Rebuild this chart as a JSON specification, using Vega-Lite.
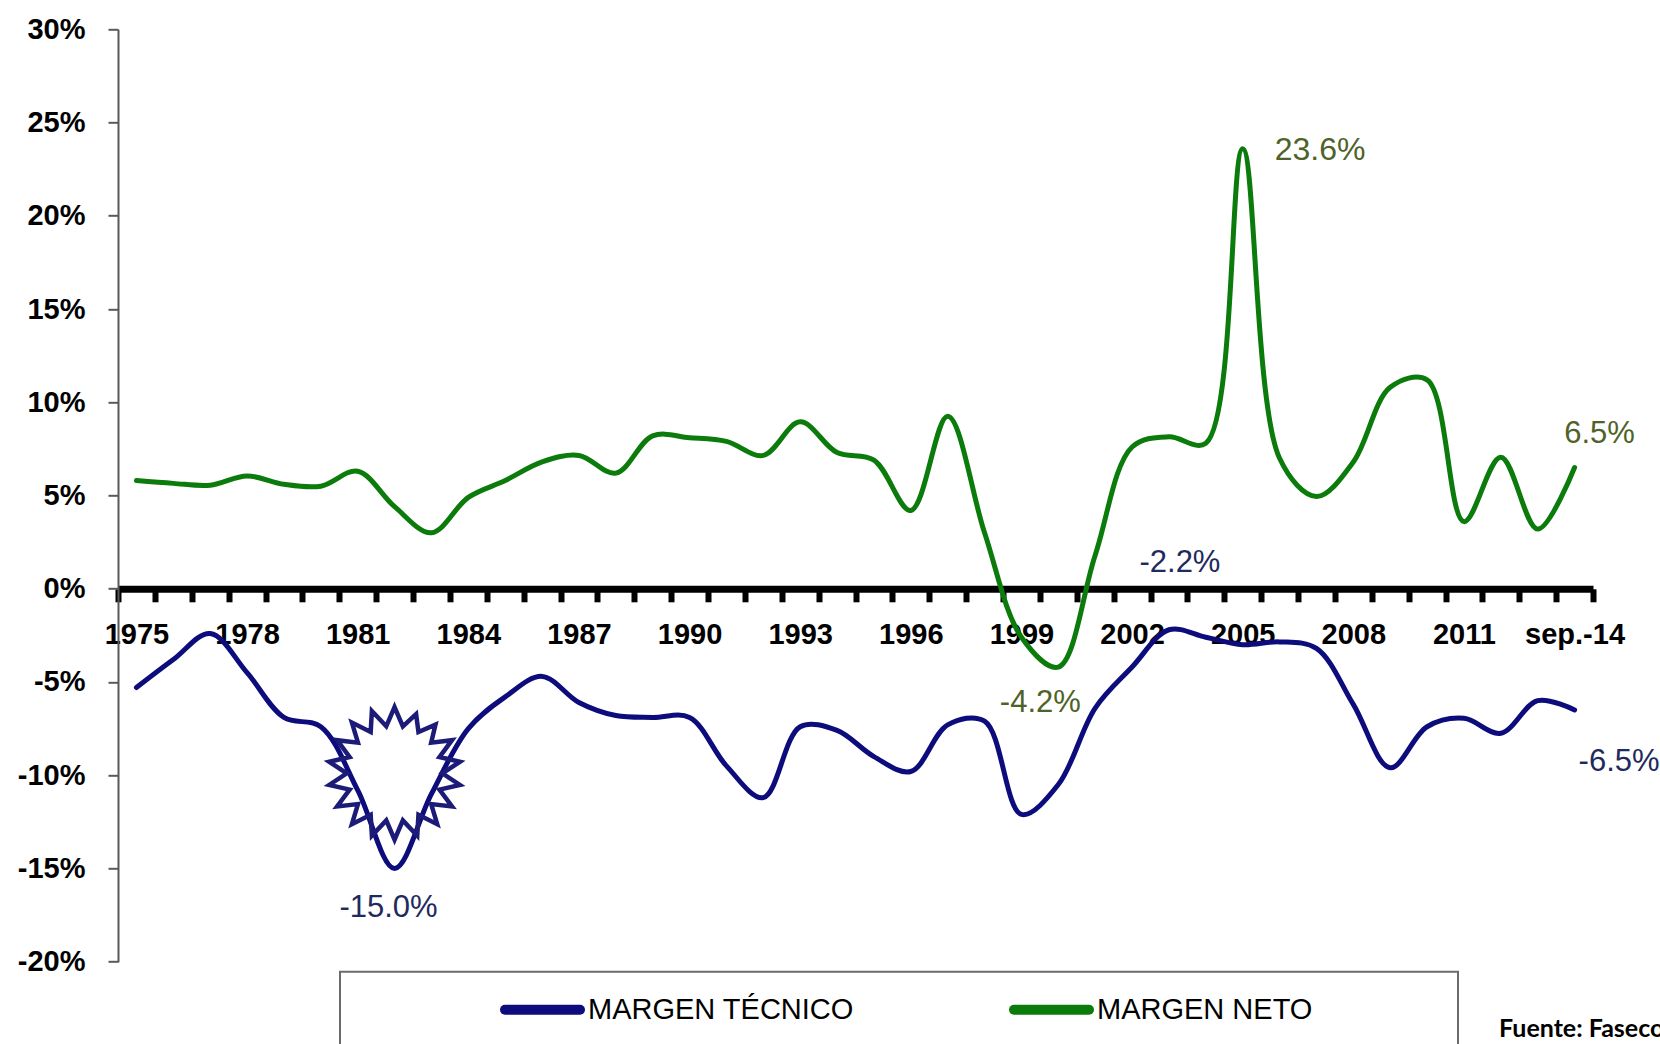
{
  "$schema": "https://vega.github.io/schema/vega-lite/v6.json",
  "width": 1475,
  "height": 932.4,
  "autosize": {"type": "none"},
  "padding": {"left": 118, "top": 29.3, "right": 67, "bottom": 82.3},
  "background": "white",
  "config": {"view": {"stroke": null}, "font": "Liberation Sans"},
  "title": {
    "text": "Fuente: Fasecolda",
    "orient": "bottom",
    "anchor": "start",
    "frame": "group",
    "dx": 1381,
    "offset": -32,
    "font": "Lato",
    "fontSize": 25,
    "fontWeight": "bold",
    "color": "black"
  },
  "datasets": {
    "series": [
      {"year": "1975", "serie": "MARGEN TÉCNICO", "value": -5.3},
      {"year": "1976", "serie": "MARGEN TÉCNICO", "value": -3.8},
      {"year": "1977", "serie": "MARGEN TÉCNICO", "value": -2.4},
      {"year": "1978", "serie": "MARGEN TÉCNICO", "value": -4.5},
      {"year": "1979", "serie": "MARGEN TÉCNICO", "value": -6.9},
      {"year": "1980", "serie": "MARGEN TÉCNICO", "value": -7.4},
      {"year": "1981", "serie": "MARGEN TÉCNICO", "value": -10.8},
      {"year": "1982", "serie": "MARGEN TÉCNICO", "value": -15.0},
      {"year": "1983", "serie": "MARGEN TÉCNICO", "value": -11.0},
      {"year": "1984", "serie": "MARGEN TÉCNICO", "value": -7.5},
      {"year": "1985", "serie": "MARGEN TÉCNICO", "value": -5.8},
      {"year": "1986", "serie": "MARGEN TÉCNICO", "value": -4.7},
      {"year": "1987", "serie": "MARGEN TÉCNICO", "value": -6.1},
      {"year": "1988", "serie": "MARGEN TÉCNICO", "value": -6.8},
      {"year": "1989", "serie": "MARGEN TÉCNICO", "value": -6.9},
      {"year": "1990", "serie": "MARGEN TÉCNICO", "value": -6.9},
      {"year": "1991", "serie": "MARGEN TÉCNICO", "value": -9.5},
      {"year": "1992", "serie": "MARGEN TÉCNICO", "value": -11.2},
      {"year": "1993", "serie": "MARGEN TÉCNICO", "value": -7.4},
      {"year": "1994", "serie": "MARGEN TÉCNICO", "value": -7.6},
      {"year": "1995", "serie": "MARGEN TÉCNICO", "value": -9.0},
      {"year": "1996", "serie": "MARGEN TÉCNICO", "value": -9.8},
      {"year": "1997", "serie": "MARGEN TÉCNICO", "value": -7.3},
      {"year": "1998", "serie": "MARGEN TÉCNICO", "value": -7.1},
      {"year": "1999", "serie": "MARGEN TÉCNICO", "value": -12.1},
      {"year": "2000", "serie": "MARGEN TÉCNICO", "value": -10.5},
      {"year": "2001", "serie": "MARGEN TÉCNICO", "value": -6.4},
      {"year": "2002", "serie": "MARGEN TÉCNICO", "value": -4.2},
      {"year": "2003", "serie": "MARGEN TÉCNICO", "value": -2.2},
      {"year": "2004", "serie": "MARGEN TÉCNICO", "value": -2.6},
      {"year": "2005", "serie": "MARGEN TÉCNICO", "value": -3.0},
      {"year": "2006", "serie": "MARGEN TÉCNICO", "value": -2.85},
      {"year": "2007", "serie": "MARGEN TÉCNICO", "value": -3.2},
      {"year": "2008", "serie": "MARGEN TÉCNICO", "value": -6.2},
      {"year": "2009", "serie": "MARGEN TÉCNICO", "value": -9.6},
      {"year": "2010", "serie": "MARGEN TÉCNICO", "value": -7.4},
      {"year": "2011", "serie": "MARGEN TÉCNICO", "value": -6.95},
      {"year": "2012", "serie": "MARGEN TÉCNICO", "value": -7.75},
      {"year": "2013", "serie": "MARGEN TÉCNICO", "value": -6.0},
      {"year": "sep.-14", "serie": "MARGEN TÉCNICO", "value": -6.5},
      {"year": "1975", "serie": "MARGEN NETO", "value": 5.8},
      {"year": "1976", "serie": "MARGEN NETO", "value": 5.65},
      {"year": "1977", "serie": "MARGEN NETO", "value": 5.55},
      {"year": "1978", "serie": "MARGEN NETO", "value": 6.05},
      {"year": "1979", "serie": "MARGEN NETO", "value": 5.6},
      {"year": "1980", "serie": "MARGEN NETO", "value": 5.5},
      {"year": "1981", "serie": "MARGEN NETO", "value": 6.3},
      {"year": "1982", "serie": "MARGEN NETO", "value": 4.4},
      {"year": "1983", "serie": "MARGEN NETO", "value": 3.0},
      {"year": "1984", "serie": "MARGEN NETO", "value": 4.9},
      {"year": "1985", "serie": "MARGEN NETO", "value": 5.8},
      {"year": "1986", "serie": "MARGEN NETO", "value": 6.8},
      {"year": "1987", "serie": "MARGEN NETO", "value": 7.15},
      {"year": "1988", "serie": "MARGEN NETO", "value": 6.2},
      {"year": "1989", "serie": "MARGEN NETO", "value": 8.2},
      {"year": "1990", "serie": "MARGEN NETO", "value": 8.1},
      {"year": "1991", "serie": "MARGEN NETO", "value": 7.9},
      {"year": "1992", "serie": "MARGEN NETO", "value": 7.15},
      {"year": "1993", "serie": "MARGEN NETO", "value": 8.95},
      {"year": "1994", "serie": "MARGEN NETO", "value": 7.3},
      {"year": "1995", "serie": "MARGEN NETO", "value": 6.9},
      {"year": "1996", "serie": "MARGEN NETO", "value": 4.2},
      {"year": "1997", "serie": "MARGEN NETO", "value": 9.25},
      {"year": "1998", "serie": "MARGEN NETO", "value": 3.0},
      {"year": "1999", "serie": "MARGEN NETO", "value": -2.6},
      {"year": "2000", "serie": "MARGEN NETO", "value": -4.2},
      {"year": "2001", "serie": "MARGEN NETO", "value": 1.8},
      {"year": "2002", "serie": "MARGEN NETO", "value": 7.6},
      {"year": "2003", "serie": "MARGEN NETO", "value": 8.15},
      {"year": "2004", "serie": "MARGEN NETO", "value": 7.8},
      {"year": "2005", "serie": "MARGEN NETO", "value": 23.6},
      {"year": "2006", "serie": "MARGEN NETO", "value": 7.0},
      {"year": "2007", "serie": "MARGEN NETO", "value": 4.95},
      {"year": "2008", "serie": "MARGEN NETO", "value": 6.8},
      {"year": "2009", "serie": "MARGEN NETO", "value": 10.8},
      {"year": "2010", "serie": "MARGEN NETO", "value": 11.2},
      {"year": "2011", "serie": "MARGEN NETO", "value": 3.6},
      {"year": "2012", "serie": "MARGEN NETO", "value": 7.05},
      {"year": "2013", "serie": "MARGEN NETO", "value": 3.2},
      {"year": "sep.-14", "serie": "MARGEN NETO", "value": 6.5}
    ],
    "notes": [
      {"id": "n1", "year": "2005", "value": 23.6, "label": "23.6%"},
      {"id": "n2", "year": "sep.-14", "value": 6.5, "label": "6.5%"},
      {"id": "n3", "year": "2000", "value": -4.2, "label": "-4.2%"},
      {"id": "t1", "year": "2003", "value": -2.2, "label": "-2.2%"},
      {"id": "t2", "year": "1982", "value": -15.0, "label": "-15.0%"},
      {"id": "t3", "year": "sep.-14", "value": -6.5, "label": "-6.5%"}
    ],
    "star": [{"year": "1982", "value": -9.9}]
  },
  "layer": [
    {
      "data": {"name": "series"},
      "mark": {"type": "line", "interpolate": "catmull-rom", "strokeWidth": 5, "strokeCap": "round", "strokeJoin": "round"},
      "encoding": {
        "x": {
          "field": "year", "type": "nominal", "sort": null,
          "scale": {"type": "band", "paddingInner": 0, "paddingOuter": 0},
          "axis": {
            "title": null, "offset": -372.9,
            "domainColor": "black", "domainWidth": 7,
            "tickColor": "black", "tickWidth": 6, "tickSize": 13, "tickBand": "extent",
            "labelFont": "Liberation Sans", "labelFontWeight": "bold", "labelFontSize": 29,
            "labelColor": "black", "labelPadding": 19, "labelAngle": 0, "labelOverlap": false,
            "labelExpr": "datum.value == 'sep.-14' || (toNumber(datum.value) - 1975) % 3 == 0 ? datum.value : ''"
          }
        },
        "y": {
          "field": "value", "type": "quantitative",
          "scale": {"domain": [-20, 30], "nice": false, "zero": false},
          "axis": {
            "title": null, "grid": false,
            "values": [-20, -15, -10, -5, 0, 5, 10, 15, 20, 25, 30],
            "labelExpr": "datum.value + '%'",
            "domainColor": "#595959", "domainWidth": 2,
            "tickColor": "#595959", "tickWidth": 2, "tickSize": 10,
            "labelFont": "Liberation Sans", "labelFontWeight": "bold", "labelFontSize": 29,
            "labelColor": "black", "labelPadding": 23
          }
        },
        "color": {
          "field": "serie", "type": "nominal",
          "scale": {"domain": ["MARGEN TÉCNICO", "MARGEN NETO"], "range": ["#0c0c7c", "#0b7b0b"]},
          "legend": {
            "orient": "none", "legendX": 222, "legendY": 942.4,
            "direction": "horizontal", "title": null,
            "symbolType": "stroke", "symbolSize": 5625, "symbolStrokeWidth": 10,
            "symbolOffset": 141, "clipHeight": 38,
            "labelFont": "Liberation Sans", "labelFontSize": 29, "labelColor": "black",
            "labelOffset": 3, "columnPadding": 14, "padding": 19, "labelLimit": 0,
            "strokeColor": "#6b6b6b", "fillColor": "white",
            "labelExpr": "datum.label == 'MARGEN NETO' ? datum.label + '\u2800\u2800\u2800\u2800\u2800\u2800' : datum.label",
            "encode": {
              "symbols": {"update": {"strokeCap": {"value": "round"}}},
              "legend": {"update": {"strokeWidth": {"value": 2}}}
            }
          }
        }
      }
    },
    {
      "data": {"name": "star"},
      "mark": {
        "type": "point",
        "shape": "M0,-1L0.125,-0.709L0.325,-0.893L0.36,-0.624L0.617,-0.735L0.552,-0.463L0.866,-0.5L0.677,-0.246L0.985,-0.174L0.72,0L0.985,0.174L0.677,0.246L0.866,0.5L0.552,0.463L0.643,0.766L0.36,0.624L0.342,0.94L0.125,0.709L0,1L-0.125,0.709L-0.342,0.94L-0.36,0.624L-0.643,0.766L-0.552,0.463L-0.866,0.5L-0.677,0.246L-0.985,0.174L-0.72,0L-0.985,-0.174L-0.677,-0.246L-0.866,-0.5L-0.552,-0.463L-0.643,-0.766L-0.36,-0.624L-0.342,-0.94L-0.125,-0.709Z",
        "size": 17600, "filled": false, "stroke": "#1c1c78", "strokeWidth": 4.5, "strokeJoin": "miter", "opacity": 1
      },
      "encoding": {
        "x": {"field": "year", "type": "nominal", "sort": null},
        "y": {"field": "value", "type": "quantitative"}
      }
    },
    {
      "data": {"name": "notes"},
      "transform": [{"filter": "datum.id == 'n1'"}],
      "mark": {"type": "text", "align": "left", "baseline": "middle", "dx": 32, "dy": 1, "fontSize": 32, "color": "#4f6228"},
      "encoding": {"x": {"field": "year", "type": "nominal", "sort": null}, "y": {"field": "value", "type": "quantitative"}, "text": {"field": "label"}}
    },
    {
      "data": {"name": "notes"},
      "transform": [{"filter": "datum.id == 'n2'"}],
      "mark": {"type": "text", "align": "center", "baseline": "middle", "dx": 25, "dy": -34, "fontSize": 31, "color": "#4f6228"},
      "encoding": {"x": {"field": "year", "type": "nominal", "sort": null}, "y": {"field": "value", "type": "quantitative"}, "text": {"field": "label"}}
    },
    {
      "data": {"name": "notes"},
      "transform": [{"filter": "datum.id == 'n3'"}],
      "mark": {"type": "text", "align": "center", "baseline": "middle", "dx": -18, "dy": 36, "fontSize": 31, "color": "#4f6228"},
      "encoding": {"x": {"field": "year", "type": "nominal", "sort": null}, "y": {"field": "value", "type": "quantitative"}, "text": {"field": "label"}}
    },
    {
      "data": {"name": "notes"},
      "transform": [{"filter": "datum.id == 't1'"}],
      "mark": {"type": "text", "align": "center", "baseline": "middle", "dx": 11, "dy": -67, "fontSize": 31, "color": "#1f2a5e"},
      "encoding": {"x": {"field": "year", "type": "nominal", "sort": null}, "y": {"field": "value", "type": "quantitative"}, "text": {"field": "label"}}
    },
    {
      "data": {"name": "notes"},
      "transform": [{"filter": "datum.id == 't2'"}],
      "mark": {"type": "text", "align": "center", "baseline": "middle", "dx": -6, "dy": 40, "fontSize": 31, "color": "#1f2a5e"},
      "encoding": {"x": {"field": "year", "type": "nominal", "sort": null}, "y": {"field": "value", "type": "quantitative"}, "text": {"field": "label"}}
    },
    {
      "data": {"name": "notes"},
      "transform": [{"filter": "datum.id == 't3'"}],
      "mark": {"type": "text", "align": "left", "baseline": "middle", "dx": 4, "dy": 52, "fontSize": 31, "color": "#1f2a5e"},
      "encoding": {"x": {"field": "year", "type": "nominal", "sort": null}, "y": {"field": "value", "type": "quantitative"}, "text": {"field": "label"}}
    }
  ]
}
